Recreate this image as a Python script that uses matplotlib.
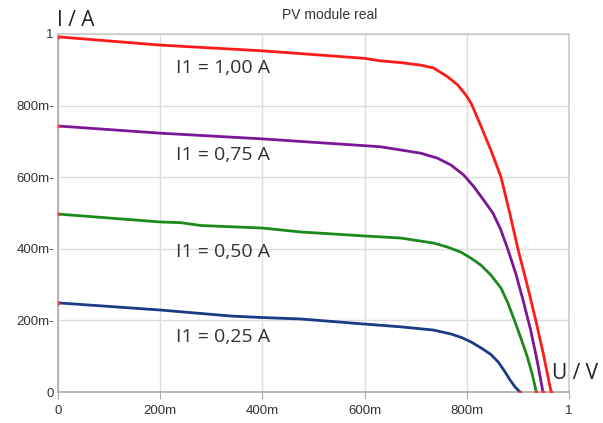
import matplotlib
matplotlib.use("Agg")
import matplotlib.pyplot as plt

# I-V curves (U in V, I in A)
u_100 = [0, 0.2, 0.4, 0.6, 0.631, 0.671, 0.710, 0.735, 0.762, 0.782, 0.798, 0.809, 0.827,
         0.847, 0.867, 0.884, 0.900, 0.918, 0.935, 0.950, 0.965]
i_100 = [0.992, 0.969, 0.953, 0.932, 0.925, 0.920, 0.913, 0.905, 0.881, 0.858, 0.830, 0.805, 0.745,
         0.676, 0.600, 0.500, 0.400, 0.300, 0.200, 0.105, 0.0]

u_075 = [0, 0.2, 0.4, 0.6, 0.631, 0.671, 0.710, 0.743, 0.769, 0.794, 0.814, 0.833, 0.851,
         0.866, 0.880, 0.896, 0.910, 0.925, 0.938, 0.949]
i_075 = [0.743, 0.723, 0.707, 0.688, 0.685, 0.676, 0.667, 0.653, 0.634, 0.606, 0.573, 0.536, 0.500,
         0.455, 0.400, 0.330, 0.257, 0.173, 0.085, 0.0]

u_050 = [0, 0.2, 0.24, 0.28, 0.4, 0.475, 0.598, 0.671, 0.735, 0.762, 0.788, 0.808, 0.827, 0.847,
         0.867, 0.880, 0.892, 0.906, 0.918, 0.928, 0.936]
i_050 = [0.497, 0.475, 0.473, 0.465, 0.458, 0.447, 0.436, 0.430, 0.416, 0.405, 0.391, 0.374, 0.355, 0.327,
         0.290, 0.250, 0.205, 0.150, 0.100, 0.050, 0.0]

u_025 = [0, 0.2, 0.34, 0.4, 0.475, 0.598, 0.671, 0.735, 0.769, 0.790, 0.808, 0.827, 0.847, 0.862,
         0.873, 0.884, 0.894, 0.904]
i_025 = [0.249, 0.229, 0.212, 0.208, 0.204, 0.190, 0.182, 0.173, 0.162, 0.152, 0.140, 0.124, 0.105, 0.083,
         0.060, 0.035, 0.015, 0.0]

curve_labels = ["I1 = 1,00 A", "I1 = 0,75 A", "I1 = 0,50 A", "I1 = 0,25 A"]
label_u = [0.23, 0.23, 0.23, 0.23]
label_i = [0.905, 0.662, 0.392, 0.155]

x_ticks = [0, 0.2, 0.4, 0.6, 0.8, 1.0]
x_tick_labels = ["0", "200m", "400m", "600m", "800m", "1"]
y_ticks = [0, 0.2, 0.4, 0.6, 0.8, 1.0]
y_tick_labels = ["0", "200m-", "400m-", "600m-", "800m-", "1"]

colors = ["#ff1a1a", "#7b1696", "#1b8a1b", "#1b3a86"]

fig = plt.figure(figsize=(6.03, 4.23), dpi=100)
ax = fig.add_axes([58 / 603, 31 / 423, 511 / 603, 358 / 423])

series = [(u_100, i_100), (u_075, i_075), (u_050, i_050), (u_025, i_025)]
for (u, i), color in zip(series, colors):
    ax.plot(u, i, color=color, linewidth=2.0, solid_joinstyle="round", zorder=3)
    # little red end markers like in the original export
    ax.plot([u[0], u[-1]], [i[0], i[-1]], linestyle="none", marker="o",
            markersize=1.8, color="#ff3030", zorder=4)

for text, x, y in zip(curve_labels, label_u, label_i):
    ax.text(x, y, text, fontsize=14, color="#333333", family="Open Sans",
            ha="left", va="center", zorder=5)

ax.set_xlim(0, 1)
ax.set_ylim(0, 1)
ax.set_xticks(x_ticks)
ax.set_xticklabels(x_tick_labels, family="Liberation Sans")
ax.set_yticks(y_ticks)
ax.set_yticklabels(y_tick_labels, family="Liberation Sans")
ax.tick_params(axis="both", labelsize=9.5, colors="#333333", length=0, pad=3)
ax.tick_params(axis="x", length=5, color="#aaaaaa", direction="out", pad=4)
ax.grid(True, color="#dddddd", linewidth=1.0)
ax.set_axisbelow(True)
for spine in ax.spines.values():
    spine.set_color("#cccccc")
    spine.set_linewidth(1.2)
ax.spines["left"].set_color("#aaaaaa")
ax.spines["bottom"].set_color("#aaaaaa")

fig.text(330 / 603, 1 - 15 / 423, "PV module real", fontsize=10, color="#333333",
         family="Liberation Sans", ha="center", va="center")
fig.text(57 / 603, 1 - 21 / 423, "I / A", fontsize=15, color="#222222",
         family="Open Sans", ha="left", va="center")
fig.text(552 / 603, 1 - 373 / 423, "U / V", fontsize=15, color="#222222",
         family="Open Sans", ha="left", va="center")

fig.savefig("out.png", dpi=100)
